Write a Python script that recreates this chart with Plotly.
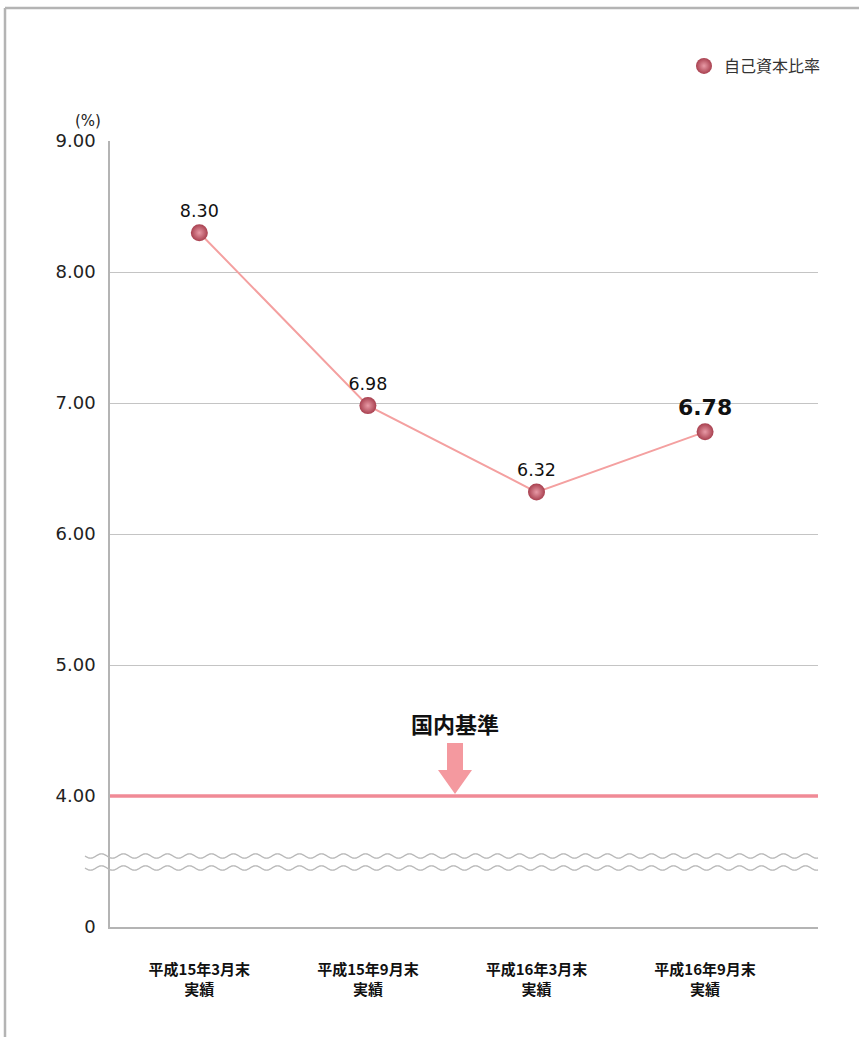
import numpy as np
import plotly.graph_objects as go

# ---- data ----
categories = ["平成15年3月末<br>実績", "平成15年9月末<br>実績", "平成16年3月末<br>実績", "平成16年9月末<br>実績"]
ratio_values = [8.30, 6.98, 6.32, 6.78]
series_name = "自己資本比率"
domestic_standard = 4.00
tick_values = [3, 4, 5, 6, 7, 8, 9]          # 3 stands for the broken-axis "0"
tick_labels = ["0", "4.00", "5.00", "6.00", "7.00", "8.00", "9.00"]
standard_label = "国内基準"

W, H = 859, 1037
L, R, T, B = 110, 818, 141, 927   # plot area in pixels


def px(x):
    return (x - L) / (R - L)


def py(y):
    return (B - y) / (B - T)


FONT = "Noto Sans CJK JP, Noto Sans, sans-serif"
NUMFONT = "DejaVu Sans, sans-serif"
x_idx = list(range(len(categories)))
labels = [f"{v:.2f}" for v in ratio_values]
label_sizes = [17.5] * (len(labels) - 1) + [22]
labels = labels[:-1] + [f"<b>{labels[-1]}</b>"]

fig = go.Figure()
fig.add_trace(go.Scatter(
    x=x_idx, y=ratio_values, mode="lines",
    line=dict(color="#f4a0a0", width=2), showlegend=False, hoverinfo="skip"))
fig.add_trace(go.Scatter(
    x=x_idx, y=ratio_values, mode="markers+text", name=series_name,
    text=labels, textposition="top center",
    textfont=dict(size=label_sizes, color="#111", family=NUMFONT),
    marker=dict(size=17, color="#a8404f",
                gradient=dict(type="radial", color="#e89aa6"),
                line=dict(width=0)),
    cliponaxis=False))

shapes = []
# domestic standard line
shapes.append(dict(type="line", xref="paper", yref="y", x0=0, x1=1,
                   y0=domestic_standard, y1=domestic_standard,
                   line=dict(color="#f08a96", width=3.5), layer="above"))
# wavy break lines
xs = np.arange(85, 819, 1.0)
for yb in (856, 868):
    ys = yb + 2.2 * np.sin(2 * np.pi * (xs - 85) / 22.0)
    path = "M " + " L ".join(f"{px(a):.5f},{py(b):.5f}" for a, b in zip(xs, ys))
    shapes.append(dict(type="path", xref="paper", yref="paper", path=path,
                       line=dict(color="#b8b8b8", width=1.3)))
# arrow
ax = 455
arrow_pts = [(ax - 8, 743), (ax + 8, 743), (ax + 8, 770), (ax + 17, 770),
             (ax, 794), (ax - 17, 770), (ax - 8, 770)]
path = "M " + " L ".join(f"{px(a):.5f},{py(b):.5f}" for a, b in arrow_pts) + " Z"
shapes.append(dict(type="path", xref="paper", yref="paper", path=path,
                   fillcolor="#f4999f", line=dict(width=0), layer="above"))
# outer frame (top and left edges)
shapes.append(dict(type="line", xref="paper", yref="paper",
                   x0=px(5), x1=px(W + 5), y0=py(8), y1=py(8),
                   line=dict(color="#b4b4b4", width=2.5)))
shapes.append(dict(type="line", xref="paper", yref="paper",
                   x0=px(5), x1=px(5), y0=py(8), y1=py(H + 5),
                   line=dict(color="#b4b4b4", width=2.5)))

annotations = [
    dict(text=standard_label, xref="paper", yref="paper", x=px(455), y=py(723),
         xanchor="center", yanchor="middle", showarrow=False,
         font=dict(size=22, color="#111", family=FONT, weight="bold")),
    dict(text="(%)", xref="paper", yref="paper", x=px(103), y=py(121),
         xanchor="right", yanchor="middle", showarrow=False,
         font=dict(size=15, color="#222", family=NUMFONT)),
]

fig.update_layout(
    width=W, height=H, autosize=False,
    margin=dict(l=L, r=W - R, t=T, b=H - B, pad=0),
    paper_bgcolor="white", plot_bgcolor="white",
    font=dict(family=FONT, color="#222"),
    shapes=shapes, annotations=annotations,
    legend=dict(x=px(826), y=py(66), xanchor="right", yanchor="middle",
                font=dict(size=16, color="#333", family=FONT),
                bgcolor="rgba(0,0,0,0)", itemwidth=30),
    xaxis=dict(range=[-0.53, 3.67], tickvals=x_idx, ticktext=categories,
               showgrid=False, zeroline=False, showline=True,
               linecolor="#b4b4b4", linewidth=2,
               ticks="outside", ticklen=28, tickcolor="rgba(0,0,0,0)",
               tickfont=dict(size=15, color="#111", family=FONT, weight="bold")),
    yaxis=dict(range=[3, 9], tickvals=tick_values, ticktext=tick_labels,
               showgrid=True, gridcolor="#c4c4c4", gridwidth=1, zeroline=False,
               showline=True, linecolor="#b4b4b4", linewidth=1.5,
               ticks="", ticklabelstandoff=9,
               tickfont=dict(size=18, color="#222", family=NUMFONT)),
)

fig.write_html("out.html")
